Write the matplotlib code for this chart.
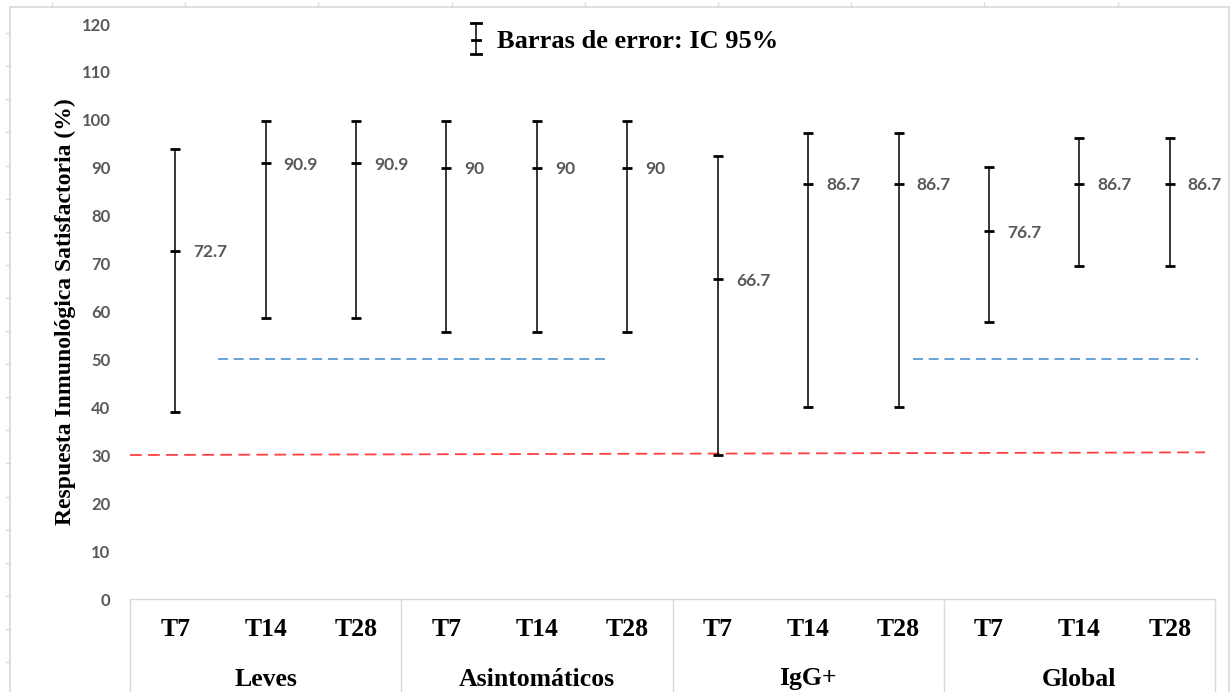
import matplotlib
matplotlib.use("Agg")
import matplotlib.pyplot as plt
import matplotlib.transforms as mtransforms
import numpy as np

# ---- data ----
groups = ["Leves", "Asintomáticos", "IgG+", "Global"]
times = ["T7", "T14", "T28"]
values = [72.7, 90.9, 90.9, 90, 90, 90, 66.7, 86.7, 86.7, 76.7, 86.7, 86.7]
ci_low = [39.0, 58.7, 58.7, 55.7, 55.7, 55.7, 30.1, 40.1, 40.1, 57.8, 69.4, 69.4]
ci_high = [94.0, 99.8, 99.8, 99.7, 99.7, 99.7, 92.5, 97.2, 97.2, 90.2, 96.2, 96.2]
value_labels = ["72.7", "90.9", "90.9", "90", "90", "90", "66.7", "86.7", "86.7", "76.7", "86.7", "86.7"]
yticks = [0, 10, 20, 30, 40, 50, 60, 70, 80, 90, 100, 110, 120]
# reference lines: (x_start, x_end, y_start, y_end)
blue_segments = [(0.47, 4.81, 50, 50), (8.16, 11.31, 50, 50)]
red_segment = (-0.5, 11.39, 30.05, 30.6)
legend_text = "Barras de error: IC 95%"
ylabel = "Respuesta Inmunológica Satisfactoria (%)"

W, H = 1231, 692
fig = plt.figure(figsize=(W / 100, H / 100), dpi=100)
fig.patch.set_facecolor("white")

left, right, top, bottom = 130, 1215, 24, 599
ax = fig.add_axes([left / W, 1 - bottom / H, (right - left) / W, (bottom - top) / H])

serif = "Liberation Serif"
sans = "Lato"
gray = "#595959"

x = np.arange(len(values))
vals = np.array(values)
lo = np.array(ci_low)
hi = np.array(ci_high)

ax.errorbar(x, vals, yerr=[vals - lo, hi - vals], fmt="_", color="black",
            ecolor="black", elinewidth=1.1, capsize=3.8, capthick=2.0,
            markersize=7.5, markeredgewidth=2.0, zorder=3)

for xi, v, lab in zip(x, vals, value_labels):
    ax.annotate(lab, (xi, v), xytext=(13, -1), textcoords="offset points",
                ha="left", va="center", fontsize=12.5, fontweight="bold",
                color=gray, family=sans)

for (x0, x1, y0, y1) in blue_segments:
    ax.plot([x0, x1], [y0, y1], color="#5B9BD5", lw=1.3, dashes=(5.5, 3.2), zorder=2)
x0, x1, y0, y1 = red_segment
ax.plot([x0, x1], [y0, y1], color="#FF4040", lw=1.3, dashes=(6.5, 3.5), zorder=2,
        clip_on=False)

ax.set_xlim(-0.5, 11.5)
ax.set_ylim(0, 120)
ax.set_yticks(yticks)
ax.set_yticklabels([str(t) for t in yticks], fontsize=12, fontweight="bold",
                   color=gray, family=sans)
ax.set_xticks(x)
ax.set_xticklabels(times * len(groups), fontsize=18.5, fontweight="bold",
                   family=serif, color="black")
ax.tick_params(axis="y", length=0, pad=14)
ax.tick_params(axis="x", length=0, pad=14)

for s in ["top", "right", "left"]:
    ax.spines[s].set_visible(False)
ax.spines["bottom"].set_color("#D9D9D9")
ax.spines["bottom"].set_linewidth(1.0)

trans = mtransforms.blended_transform_factory(ax.transData, ax.transAxes)
for gi, g in enumerate(groups):
    ax.text(gi * 3 + 1, -80 / (bottom - top), g, transform=trans, ha="center",
            va="center", fontsize=18.5, fontweight="bold", family=serif)
for xs in [-0.5, 2.5, 5.5, 8.5, 11.5]:
    ax.plot([xs, xs], [0, -(H - bottom) / (bottom - top)], transform=trans,
            color="#D9D9D9", lw=1.0, clip_on=False)

ax.set_ylabel(ylabel, fontsize=17, fontweight="bold", family=serif, color="black")
ax.yaxis.label.set_va("center")
ax.yaxis.set_label_coords(-(left - 65) / (right - left), 0.5)

# ---- overlay (pixel coordinates) for frame, sheet marks and legend ----
ov = fig.add_axes([0, 0, 1, 1], zorder=-1)
ov.set_xlim(0, W)
ov.set_ylim(H, 0)
ov.axis("off")
ov.patch.set_alpha(0)
fc = "#D9D9D9"
ov.plot([10, 10], [6.5, H], color=fc, lw=1.2)
ov.plot([10, 1229], [6.5, 6.5], color=fc, lw=1.2)
ov.plot([1229, 1229], [6.5, H], color=fc, lw=1.2)
for k in range(1, 21):
    yy = k * 33.1
    ov.plot([6, 10], [yy, yy], color=fc, lw=1.0)
for k in range(9):
    xx = 52 + k * 133.2
    ov.plot([xx, xx], [3, 6.5], color=fc, lw=1.0)

ov2 = fig.add_axes([0, 0, 1, 1], zorder=5)
ov2.set_xlim(0, W)
ov2.set_ylim(H, 0)
ov2.axis("off")
ov2.patch.set_alpha(0)
ov2.plot([476, 476], [23, 53.5], color="black", lw=1.1)
for yy in (23, 53.5):
    ov2.plot([471, 481], [yy, yy], color="black", lw=2.0)
ov2.plot([472, 480], [39.5, 39.5], color="black", lw=2.0)
ov2.text(497, 41, legend_text, ha="left", va="center", fontsize=19,
         fontweight="bold", family=serif)

fig.savefig("out.png", dpi=100)
